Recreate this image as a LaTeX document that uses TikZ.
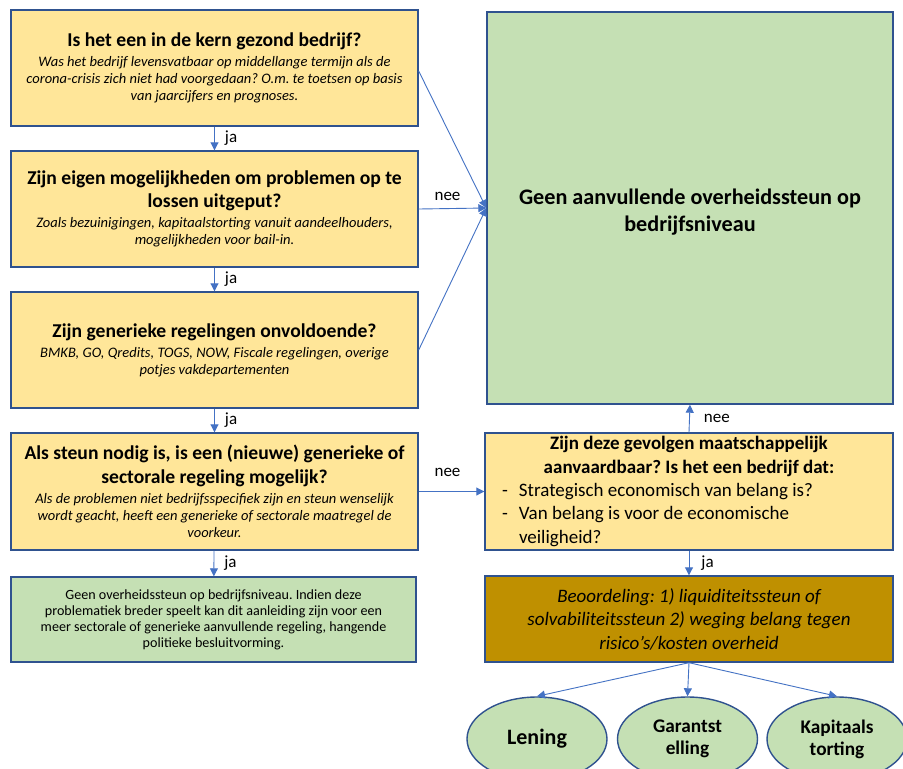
\documentclass[tikz,border=0pt]{standalone}
\usepackage{fontspec}
\setmainfont{Carlito}
\usetikzlibrary{arrows.meta,shapes.geometric}
\frenchspacing
\definecolor{boxyellow}{HTML}{FFE699}
\definecolor{boxgreen}{HTML}{C5E0B4}
\definecolor{boxbrown}{HTML}{BF9000}
\definecolor{boxborder}{HTML}{2F528F}
\definecolor{arrowblue}{HTML}{4472C4}
\newcommand\myTitle{\fontsize{19.6}{23.5}\selectfont\bfseries\upshape}
\newcommand\mySub{\fontsize{14.5}{17}\selectfont\mdseries\itshape}
\tikzset{
  basebox/.style={draw=boxborder, line width=1.4pt, rectangle, inner sep=0pt, align=flush center},
  ybox/.style={basebox, fill=boxyellow, minimum width=407pt, minimum height=116pt, text width=402pt},
  gbox/.style={basebox, fill=boxgreen},
  ell/.style={draw=boxborder, line width=1.4pt, ellipse, fill=boxgreen, minimum width=140pt, minimum height=84pt, inner sep=0pt, align=flush center, font=\fontsize{19.3}{22}\selectfont\bfseries},
  arr/.style={draw=arrowblue, line width=0.9pt, -{Triangle[length=8pt,width=8pt]}},
  lbl/.style={font=\fontsize{17}{20}\selectfont, text=black, inner sep=0pt}
}
\begin{document}
\begin{tikzpicture}[x=1pt,y=-1pt]
\clip (0,0) rectangle (903,769);
\fill[white] (0,0) rectangle (903,769);

\node[ybox] (b1) at (214.5,68) {{\myTitle Is het een in de kern gezond bedrijf?\par}\vspace{3pt}
{\mySub Was het bedrijf levensvatbaar op middellange termijn als de\\ corona-crisis zich niet had voorgedaan? O.m. te toetsen op basis\\ van jaarcijfers en prognoses.\par}};

\node[ybox] (b2) at (214.5,209) {{\myTitle Zijn eigen mogelijkheden om problemen op te\\ lossen uitgeput?\par}\vspace{3pt}
{\mySub Zoals bezuinigingen, kapitaalstorting vanuit aandeelhouders,\\ mogelijkheden voor bail-in.\par}};

\node[ybox] (b3) at (214.5,350) {{\myTitle Zijn generieke regelingen onvoldoende?\par}\vspace{3pt}
{\mySub BMKB, GO, Qredits, TOGS, NOW, Fiscale regelingen, overige\\ potjes vakdepartementen\par}};

\node[ybox, minimum height=117pt] (b4) at (214.5,491.5) {{\myTitle Als steun nodig is, is een (nieuwe) generieke of\\ sectorale regeling mogelijk?\par}\vspace{3pt}
{\mySub Als de problemen niet bedrijfsspecifiek zijn en steun wenselijk\\ wordt geacht, heeft een generieke of sectorale maatregel de\\ voorkeur.\par}};

\node[gbox, minimum width=405pt, minimum height=85pt, text width=400pt, font=\fontsize{14.1}{16}\selectfont] (b5) at (213.5,619.5) {Geen overheidssteun op bedrijfsniveau. Indien deze\\ problematiek breder speelt kan dit aanleiding zijn voor een\\ meer sectorale of generieke aanvullende regeling, hangende\\ politieke besluitvorming.};

\node[gbox, minimum width=406pt, minimum height=392pt] (big) at (690,208) {};
\node[align=flush center, text width=400pt, inner sep=0pt, font=\fontsize{22.2}{27}\selectfont\bfseries] (bigtxt) at (690,212) {Geen aanvullende overheidssteun op\\ bedrijfsniveau};

\node[basebox, fill=boxyellow, minimum width=408pt, minimum height=117pt, text width=396pt, align=flush left, font=\fontsize{19}{23.3}\selectfont] (rq) at (689,491.5) {{\centering\bfseries Zijn deze gevolgen maatschappelijk\\ aanvaardbaar? Is het een bedrijf dat:\par}
\hspace*{11pt}\makebox[17pt][l]{-}Strategisch economisch van belang is?\par
\hspace*{11pt}\makebox[17pt][l]{-}Van belang is voor de economische\par
\hspace*{28pt}veiligheid?\par};

\node[basebox, fill=boxbrown, minimum width=408pt, minimum height=86pt, text width=396pt, font=\fontsize{19}{23.5}\selectfont\itshape] (br) at (689,619) {Beoordeling: 1) liquiditeitssteun of\\ solvabiliteitssteun 2) weging belang tegen\\ risico’s/kosten overheid};

\node[ell, font=\fontsize{22}{24}\selectfont\bfseries] (e1) at (537,739) {Lening};
\node[ell] (e2) at (687.5,739) {Garantst\\ elling};
\node[ell] (e3) at (837,739) {Kapitaals\\ torting};

\draw[arr] (b1) -- node[lbl, right=10pt] {ja} (b2);
\draw[arr] (b2) -- node[lbl, right=10pt] {ja} (b3);
\draw[arr] (b3) -- node[lbl, right=10pt] {ja} (b4);
\draw[arr] (b4) -- node[lbl, right=10pt] {ja} (b5);

\draw[arr] ([yshift=-3pt]b1.east) -- (big.west);
\draw[arr] (b2.east) -- node[lbl, yshift=12pt, xshift=-5pt] {nee} (big.west);
\draw[arr] (b3.east) -- (big.west);
\draw[arr] (b4.east) -- node[lbl, yshift=19pt, xshift=-4pt] {nee} (rq.west);

\draw[arr] (rq.north) -- node[lbl, right=14pt] {nee} (big.south);
\draw[arr] (rq.south) -- node[lbl, right=12pt] {ja} (br.north);

\draw[arr] (br.south) -- (e1.north);
\draw[arr] (br.south) -- (e2.north);
\draw[arr] (br.south) -- (e3.north);
\end{tikzpicture}
\end{document}
